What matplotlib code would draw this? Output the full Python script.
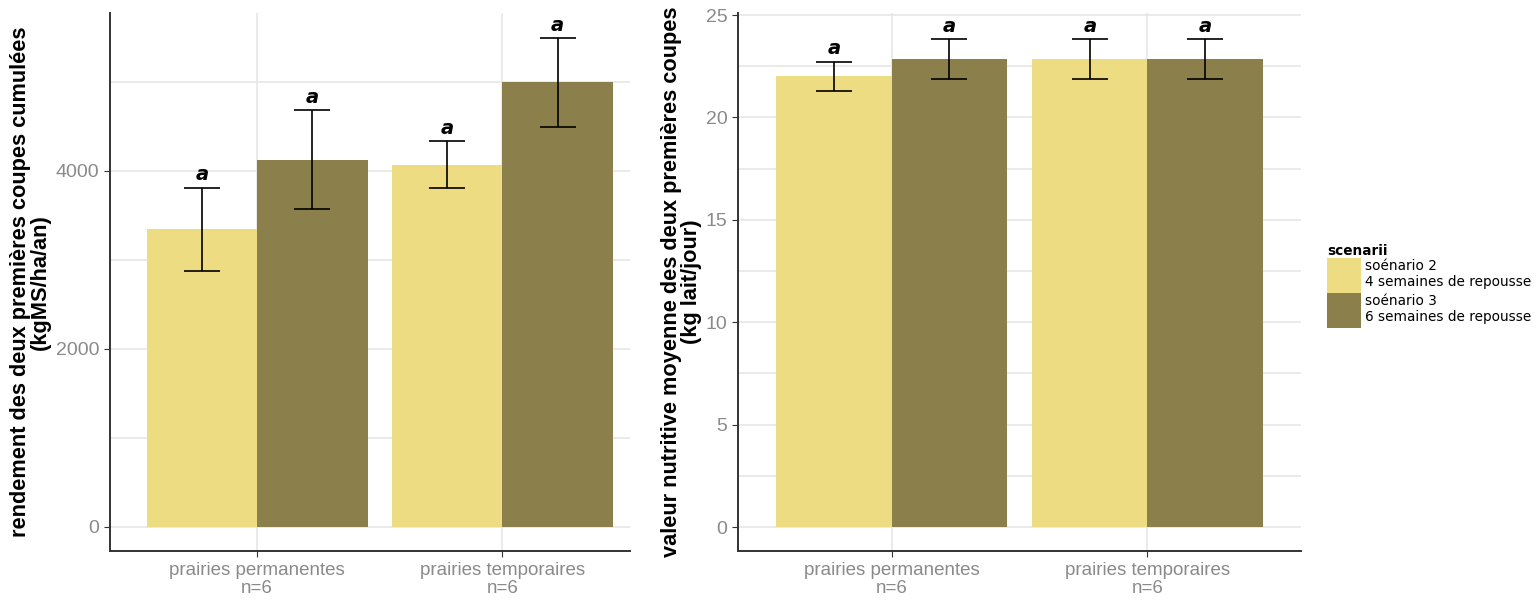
import matplotlib
matplotlib.use('Agg')
import matplotlib.pyplot as plt
from matplotlib.patches import Patch
import numpy as np

plt.rcParams['font.family'] = ['Liberation Sans', 'DejaVu Sans']

categories = ['prairies permanentes\nn=6', 'prairies temporaires\nn=6']
scenarios = ['soénario 2\n4 semaines de repousse', 'soénario 3\n6 semaines de repousse']
colors = ['#EEDC82', '#8B7F4B']

# rendement (kgMS/ha/an)
yield_sc2 = [3340, 4065]
yield_sc2_err = [470, 265]
yield_sc3 = [4125, 4990]
yield_sc3_err = [555, 495]

# valeur nutritive (kg lait/jour)
nutri_sc2 = [22.0, 22.85]
nutri_sc2_err = [0.73, 0.97]
nutri_sc3 = [22.85, 22.85]
nutri_sc3_err = [0.97, 0.97]

letters = ['a', 'a']

W, H = 1539, 602
fig = plt.figure(figsize=(W / 100, H / 100), dpi=100)

grid_c = '#E6E6E6'
tick_c = '#8A8A8A'
spine_c = '#333333'


def panel(rect, sc2, sc2e, sc3, sc3e, ylim, major, minor, xright, ylabel, pad):
    ax = fig.add_axes(rect)
    x = np.arange(len(categories))
    w = 0.45
    for vals, errs, off, col in [(sc2, sc2e, -w / 2, colors[0]), (sc3, sc3e, w / 2, colors[1])]:
        ax.bar(x + off, vals, width=w, color=col, zorder=2)
        ax.errorbar(x + off, vals, yerr=errs, fmt='none', ecolor='black',
                    elinewidth=1.2, capsize=13, capthick=1.2, zorder=3)
        for xi, v, e in zip(x + off, vals, errs):
            ax.annotate(letters[0], (xi, v + e), xytext=(0, 2.5), textcoords='offset points',
                        ha='center', va='bottom', fontsize=14, fontstyle='italic',
                        fontweight='bold', family=['DejaVu Sans'])
    ax.set_xlim(-0.6, xright)
    ax.set_ylim(*ylim)
    ax.set_yticks(major)
    ax.set_yticks(minor, minor=True)
    ax.set_xticks(x)
    ax.set_xticklabels(categories, fontsize=13.5, color=tick_c, linespacing=1.1)
    ax.tick_params(axis='y', labelsize=14, labelcolor=tick_c, color=spine_c, length=4)
    ax.tick_params(axis='y', which='minor', length=0)
    ax.tick_params(axis='x', color=spine_c, length=4, pad=4)
    ax.grid(True, which='both', color=grid_c, linewidth=1.2, zorder=0)
    ax.set_axisbelow(True)
    for s in ['top', 'right']:
        ax.spines[s].set_visible(False)
    for s in ['left', 'bottom']:
        ax.spines[s].set_color(spine_c)
        ax.spines[s].set_linewidth(1.4)
    ax.set_ylabel(ylabel, fontsize=15.7, fontweight='bold', labelpad=pad, linespacing=0.92)
    return ax


panel([110 / W, 1 - 551 / H, (630 - 110) / W, (551 - 13) / H],
      yield_sc2, yield_sc2_err, yield_sc3, yield_sc3_err,
      (-270, 5770), [0, 2000, 4000], [1000, 3000, 5000], 1.52,
      'rendement des deux premières coupes cumulées\n(kgMS/ha/an)', 4)

panel([738 / W, 1 - 551 / H, (1301 - 738) / W, (551 - 13) / H],
      nutri_sc2, nutri_sc2_err, nutri_sc3, nutri_sc3_err,
      (-1.17, 25.1), [0, 5, 10, 15, 20, 25], [2.5, 7.5, 12.5, 17.5, 22.5], 1.6,
      'valeur nutritive moyenne des deux premières coupes\n(kg lait/jour)', 3)

handles = [Patch(facecolor=c, edgecolor='none') for c in colors]
leg = fig.legend(handles, scenarios, title='scenarii', loc='upper left',
                 bbox_to_anchor=(1327 / W, 1 - 244 / H), frameon=False,
                 handlelength=2.48, handleheight=3.55, labelspacing=0.0,
                 handletextpad=0.3, borderaxespad=0, borderpad=0, alignment='left',
                 prop={'family': 'DejaVu Sans', 'size': 9.85},
                 title_fontproperties={'family': 'DejaVu Sans', 'size': 9.85, 'weight': 'bold'})

fig.savefig('out.png', dpi=100)
